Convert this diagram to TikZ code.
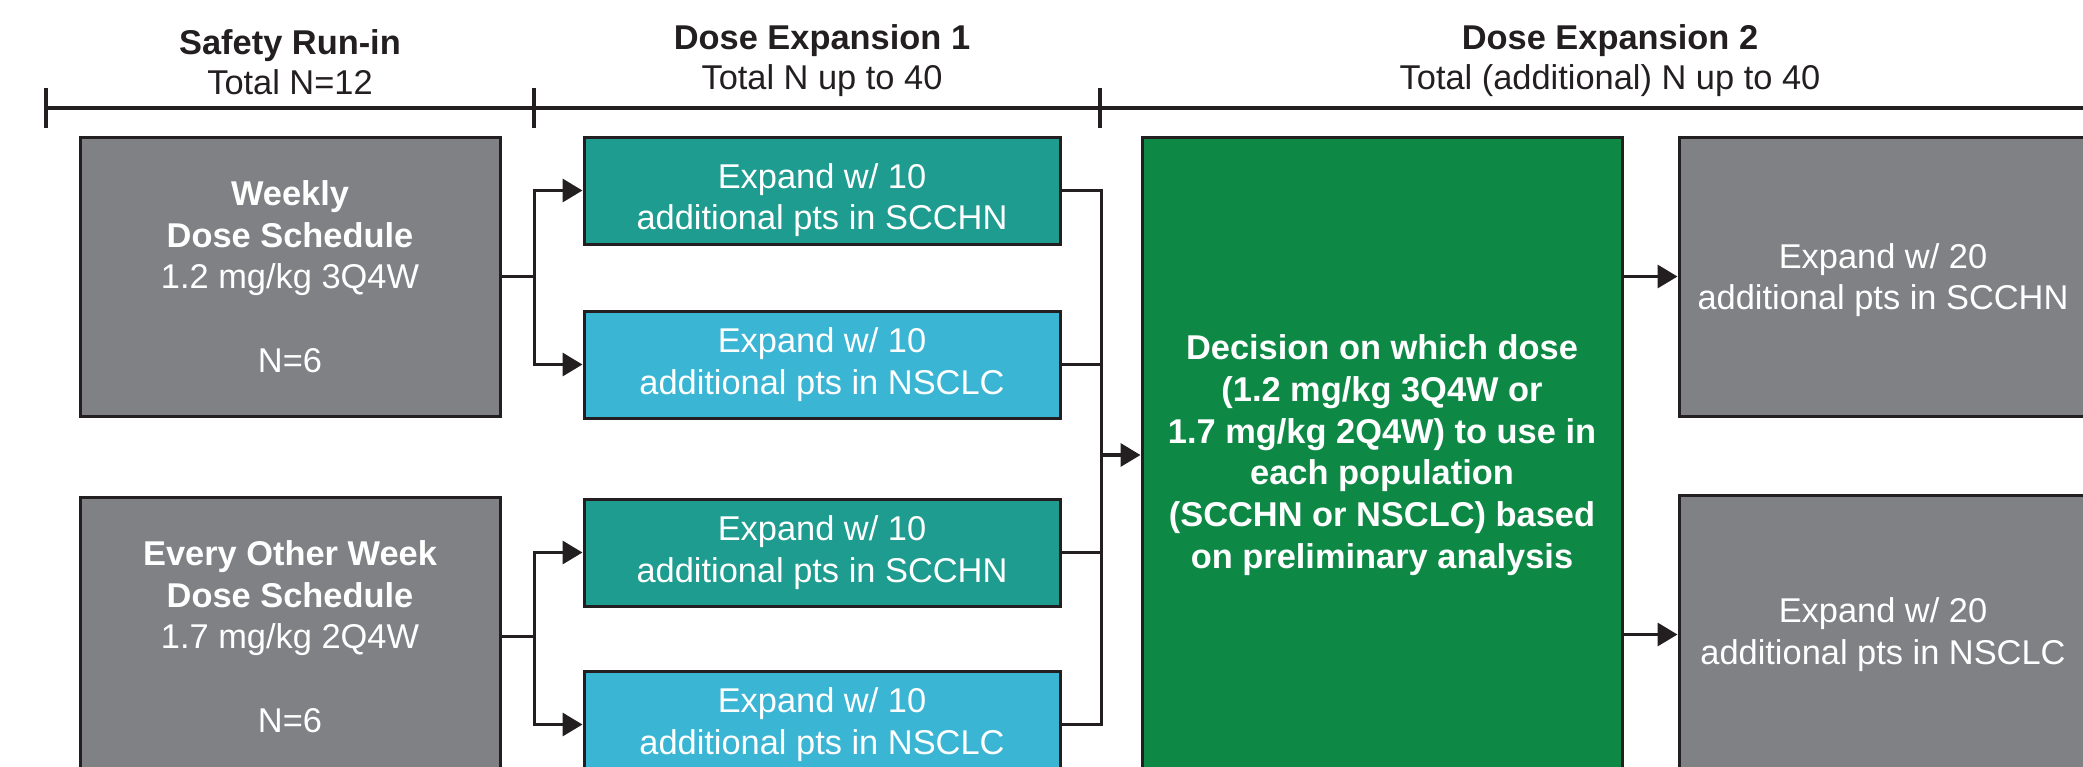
\documentclass[tikz,border=0pt]{standalone}
\usepackage{fontspec}
\setmainfont{Liberation Sans}
\usetikzlibrary{positioning,arrows.meta}

\definecolor{schedgray}{RGB}{128,129,133}
\definecolor{sccteal}{RGB}{30,156,144}
\definecolor{nsccyan}{RGB}{58,181,212}
\definecolor{decgreen}{RGB}{13,137,69}
\definecolor{ink}{RGB}{35,31,32}

\tikzset{
  box/.style={draw=ink, line width=1.5pt, text=white, align=center, inner sep=0pt,
    font=\fontsize{17.2}{20.85}\selectfont},
  schedbox/.style={box, fill=schedgray, minimum width=210pt, minimum height=139.5pt},
  armbox/.style={box, minimum width=238pt, minimum height=53.5pt},
  sccbox/.style={armbox, fill=sccteal},
  nscbox/.style={armbox, fill=nsccyan},
  decbox/.style={box, fill=decgreen, minimum width=240pt, minimum height=318pt,
    font=\fontsize{17.2}{20.85}\selectfont\bfseries},
  expbox/.style={box, fill=schedgray, minimum width=204pt, minimum height=139.5pt},
  link/.style={draw=ink, line width=1.7pt},
  arr/.style={link, -{Triangle[length=10pt,width=11.5pt]}},
  phase/.style={align=center, anchor=base, text=ink, font=\fontsize{17.2}{20}\selectfont},
}

\begin{document}
\begin{tikzpicture}[x=0.5pt, y=-0.5pt]
\useasboundingbox (0,0) rectangle (2083,766);
\clip (0,0) rectangle (2083,766);

% timeline
\coordinate (tl0) at (46,108);
\coordinate (tl1) at (534,108);
\coordinate (tl2) at (1100,108);
\coordinate (tlend) at (2100,108);
\draw[link] (tl0) -- (tlend);
\foreach \t in {tl0,tl1,tl2}
  \draw[link] ([yshift=10pt]\t) -- ([yshift=-10pt]\t);

% phase headers
\node[phase] (hrun) at (290,94) {\textbf{Safety Run-in}\\Total N=12};
\node[phase] (hexp1) at (822,89) {\textbf{Dose Expansion 1}\\Total N up to 40};
\node[phase] (hexp2) at (1610,89) {\textbf{Dose Expansion 2}\\Total (additional) N up to 40};

% safety run-in
\node[schedbox] (weekly) at (290,276.5)
  {\textbf{Weekly}\\\textbf{Dose Schedule}\\1.2 mg/kg 3Q4W\\[20.85pt]N=6};
\node[schedbox, below=39pt of weekly] (biweekly)
  {\textbf{Every Other Week}\\\textbf{Dose Schedule}\\1.7 mg/kg 2Q4W\\[20.85pt]N=6};

% dose expansion 1
\node[sccbox, text height=39.2pt, text depth=0pt] (scc1) at (822,190.5)
  {Expand w/ 10\\additional pts in SCCHN};
\node[nscbox, below=32pt of scc1] (nsc1) {Expand w/ 10\\additional pts in NSCLC};
\node[sccbox, below=39pt of nsc1] (scc2) {Expand w/ 10\\additional pts in SCCHN};
\node[nscbox, below=31pt of scc2] (nsc2) {Expand w/ 10\\additional pts in NSCLC};

% dose expansion 2
\node[decbox] (decide) at (1382,455)
  {Decision on which dose\\(1.2 mg/kg 3Q4W or\\1.7 mg/kg 2Q4W) to use in\\each population\\(SCCHN or NSCLC) based\\on preliminary analysis};
\node[expbox, text depth=0pt] (exp20a) at (1883,276.5) {Expand w/ 20\\additional pts in SCCHN};
\node[expbox, below=38pt of exp20a] (exp20b) {Expand w/ 20\\additional pts in NSCLC};

% connectors
\draw[link] (weekly.east) -- ++(16.5pt,0) coordinate (wsplit);
\draw[arr] (wsplit) |- (scc1.west);
\draw[arr] (wsplit) |- (nsc1.west);
\draw[link] (biweekly.east) -- ++(16.5pt,0) coordinate (bsplit);
\draw[arr] (bsplit) |- (scc2.west);
\draw[arr] (bsplit) |- (nsc2.west);

\draw[link] (scc1.east) -- ++(20pt,0) coordinate (jtop) -- (jtop |- nsc2.east) -- (nsc2.east);
\draw[link] (nsc1.east) -- (jtop |- nsc1.east);
\draw[link] (scc2.east) -- (jtop |- scc2.east);
\draw[arr] (jtop |- decide.west) -- (decide.west);

\draw[arr] (decide.east |- exp20a.west) -- (exp20a.west);
\draw[arr] (decide.east |- exp20b.west) -- (exp20b.west);
\end{tikzpicture}
\end{document}
